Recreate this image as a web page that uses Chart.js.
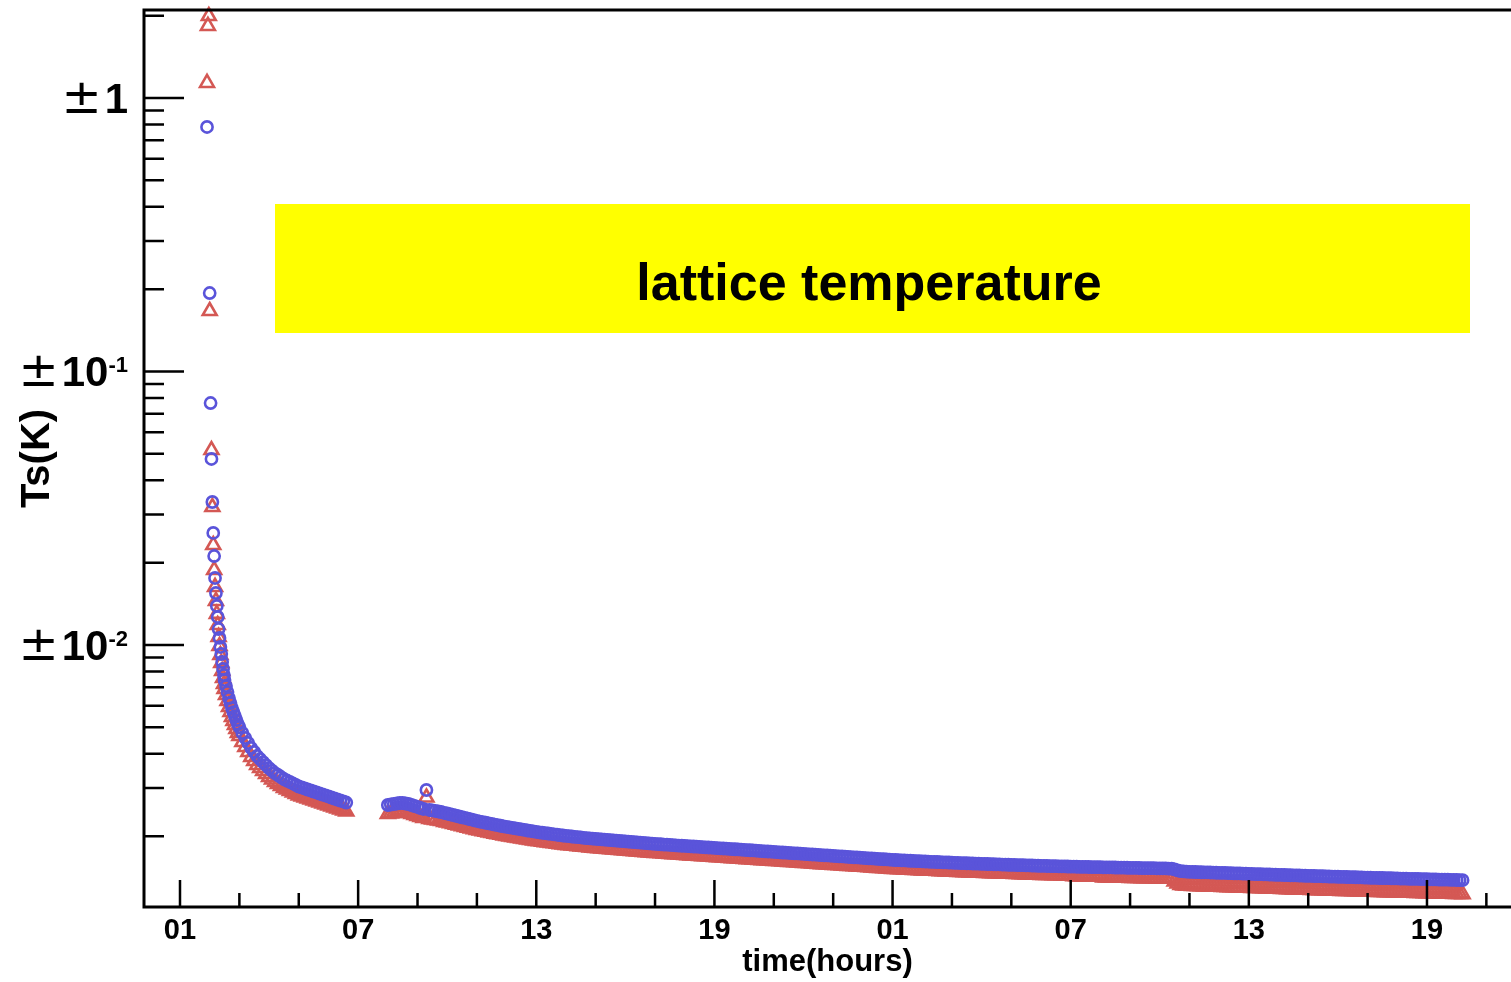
<!DOCTYPE html>
<html>
<head>
<meta charset="utf-8">
<title>lattice temperature</title>
<script src="https://cdn.jsdelivr.net/npm/chart.js@4"></script>
<style>
  html, body { margin: 0; padding: 0; background: #fff; }
  canvas { display: block; }
</style>
</head>
<body>
<canvas id="ts" width="1511" height="982"></canvas>
<script>
"use strict";

// time axis, hours since midnight of day one
const times = [
  1.91, 1.94, 1.97, 2.00, 2.03, 2.06, 2.09, 2.12, 2.15, 2.18, 2.21, 2.24, 2.27, 2.30, 2.33, 2.36, 2.39, 2.42, 2.45, 2.48,
  2.50, 2.55, 2.60, 2.65, 2.70, 2.75, 2.80, 2.85, 2.90, 2.95,
  3.0, 3.1, 3.2, 3.3, 3.4, 3.5, 3.6, 3.7, 3.8, 3.9,
  4.0, 4.1, 4.2, 4.3, 4.4, 4.5, 4.6, 4.7, 4.8, 4.9,
  5.0, 5.1, 5.2, 5.3, 5.4, 5.5, 5.6, 5.7, 5.8, 5.9,
  6.0, 6.1, 6.2, 6.3, 6.4, 6.5, 6.6,
  8.0, 8.1, 8.2, 8.3, 8.4, 8.5, 8.6, 8.7, 8.8, 8.9,
  9.0, 9.1, 9.2, 9.3, 9.4, 9.5, 9.6, 9.7, 9.8, 9.9,
  10.0, 10.1, 10.2, 10.3, 10.4, 10.5, 10.6, 10.7, 10.8, 10.9,
  11.0, 11.1, 11.2, 11.3, 11.4, 11.5, 11.6, 11.7, 11.8, 11.9,
  12.0, 12.1, 12.2, 12.3, 12.4, 12.5, 12.6, 12.7, 12.8, 12.9,
  13.0, 13.1, 13.2, 13.3, 13.4, 13.5, 13.6, 13.7, 13.8, 13.9,
  14.0, 14.1, 14.2, 14.3, 14.4, 14.5, 14.6, 14.7, 14.8, 14.9,
  15.0, 15.1, 15.2, 15.3, 15.4, 15.5, 15.6, 15.7, 15.8, 15.9,
  16.0, 16.1, 16.2, 16.3, 16.4, 16.5, 16.6, 16.7, 16.8, 16.9,
  17.0, 17.1, 17.2, 17.3, 17.4, 17.5, 17.6, 17.7, 17.8, 17.9,
  18.0, 18.1, 18.2, 18.3, 18.4, 18.5, 18.6, 18.7, 18.8, 18.9,
  19.0, 19.1, 19.2, 19.3, 19.4, 19.5, 19.6, 19.7, 19.8, 19.9,
  20.0, 20.1, 20.2, 20.3, 20.4, 20.5, 20.6, 20.7, 20.8, 20.9,
  21.0, 21.1, 21.2, 21.3, 21.4, 21.5, 21.6, 21.7, 21.8, 21.9,
  22.0, 22.1, 22.2, 22.3, 22.4, 22.5, 22.6, 22.7, 22.8, 22.9,
  23.0, 23.1, 23.2, 23.3, 23.4, 23.5, 23.6, 23.7, 23.8, 23.9,
  24.0, 24.1, 24.2, 24.3, 24.4, 24.5, 24.6, 24.7, 24.8, 24.9,
  25.0, 25.1, 25.2, 25.3, 25.4, 25.5, 25.6, 25.7, 25.8, 25.9,
  26.0, 26.1, 26.2, 26.3, 26.4, 26.5, 26.6, 26.7, 26.8, 26.9,
  27.0, 27.1, 27.2, 27.3, 27.4, 27.5, 27.6, 27.7, 27.8, 27.9,
  28.0, 28.1, 28.2, 28.3, 28.4, 28.5, 28.6, 28.7, 28.8, 28.9,
  29.0, 29.1, 29.2, 29.3, 29.4, 29.5, 29.6, 29.7, 29.8, 29.9,
  30.0, 30.1, 30.2, 30.3, 30.4, 30.5, 30.6, 30.7, 30.8, 30.9,
  31.0, 31.1, 31.2, 31.3, 31.4, 31.5, 31.6, 31.7, 31.8, 31.9,
  32.0, 32.1, 32.2, 32.3, 32.4, 32.5, 32.6, 32.7, 32.8, 32.9,
  33.0, 33.1, 33.2, 33.3, 33.4, 33.5, 33.6, 33.7, 33.8, 33.9,
  34.0, 34.1, 34.2, 34.3, 34.4, 34.5, 34.6, 34.7, 34.8, 34.9,
  35.0, 35.1, 35.2, 35.3, 35.4, 35.5, 35.6, 35.7, 35.8, 35.9,
  36.0, 36.1, 36.2, 36.3, 36.4, 36.5, 36.6, 36.7, 36.8, 36.9,
  37.0, 37.1, 37.2, 37.3, 37.4, 37.5, 37.6, 37.7, 37.8, 37.9,
  38.0, 38.1, 38.2, 38.3, 38.4, 38.5, 38.6, 38.7, 38.8, 38.9,
  39.0, 39.1, 39.2, 39.3, 39.4, 39.5, 39.6, 39.7, 39.8, 39.9,
  40.0, 40.1, 40.2, 40.3, 40.4, 40.5, 40.6, 40.7, 40.8, 40.9,
  41.0, 41.1, 41.2, 41.3, 41.4, 41.5, 41.6, 41.7, 41.8, 41.9,
  42.0, 42.1, 42.2, 42.3, 42.4, 42.5, 42.6, 42.7, 42.8, 42.9,
  43.0, 43.1, 43.2, 43.3, 43.4, 43.5, 43.6, 43.7, 43.8, 43.9,
  44.0, 44.1, 44.2
];

// Ts in K, circle markers
const tsBlue = [
  0.7834, null, null, 0.1936, 0.07669, 0.04787, 0.03333, 0.02568, 0.02115, 0.01758,
  0.01549, 0.01389, 0.01266, 0.01144, 0.01061, 0.009833, 0.009270, 0.008666, 0.008171, 0.007766,
  0.007446, 0.007079, 0.006731, 0.006399, 0.006135, 0.005882, 0.005687, 0.005498, 0.005316, 0.005140,
  0.005013, 0.004767, 0.004570, 0.004381, 0.004201, 0.004062, 0.003927, 0.003829, 0.003733, 0.003640,
  0.003549, 0.003475, 0.003403, 0.003347, 0.003291, 0.003236, 0.003195, 0.003156, 0.003116, 0.003077,
  0.003038, 0.003013, 0.002988, 0.002962, 0.002938, 0.002913, 0.002889, 0.002864, 0.002840, 0.002817,
  0.002793, 0.002769, 0.002746, 0.002723, 0.002700, 0.002678, 0.002655,
  0.002600, 0.002611, 0.002622, 0.002633, 0.002644, 0.002644, 0.002633, 0.002622, 0.002600, 0.002578,
  0.002557, 0.002535, 0.002514, 0.002950, 0.002493, 0.002483, 0.002472, 0.002462, 0.002451, 0.002431,
  0.002420, 0.002405, 0.002390, 0.002375, 0.002360, 0.002345, 0.002331, 0.002316, 0.002302, 0.002287,
  0.002273, 0.002262, 0.002250, 0.002239, 0.002227, 0.002216, 0.002205, 0.002194, 0.002183, 0.002172,
  0.002161, 0.002152, 0.002143, 0.002134, 0.002125, 0.002116, 0.002107, 0.002098, 0.002090, 0.002081,
  0.002072, 0.002065, 0.002058, 0.002052, 0.002045, 0.002038, 0.002031, 0.002024, 0.002018, 0.002011,
  0.002004, 0.001999, 0.001994, 0.001989, 0.001984, 0.001979, 0.001973, 0.001968, 0.001963, 0.001959,
  0.001954, 0.001950, 0.001946, 0.001942, 0.001938, 0.001934, 0.001930, 0.001925, 0.001921, 0.001917,
  0.001913, 0.001909, 0.001905, 0.001901, 0.001897, 0.001893, 0.001889, 0.001885, 0.001882, 0.001878,
  0.001874, 0.001871, 0.001868, 0.001864, 0.001861, 0.001858, 0.001855, 0.001852, 0.001848, 0.001845,
  0.001842, 0.001839, 0.001836, 0.001833, 0.001830, 0.001827, 0.001824, 0.001821, 0.001818, 0.001815,
  0.001812, 0.001809, 0.001806, 0.001803, 0.001800, 0.001797, 0.001794, 0.001791, 0.001788, 0.001785,
  0.001782, 0.001779, 0.001776, 0.001773, 0.001770, 0.001767, 0.001764, 0.001761, 0.001758, 0.001755,
  0.001752, 0.001749, 0.001746, 0.001743, 0.001740, 0.001737, 0.001734, 0.001731, 0.001729, 0.001726,
  0.001723, 0.001720, 0.001717, 0.001714, 0.001711, 0.001708, 0.001705, 0.001702, 0.001700, 0.001697,
  0.001694, 0.001691, 0.001688, 0.001686, 0.001683, 0.001680, 0.001677, 0.001674, 0.001672, 0.001669,
  0.001666, 0.001663, 0.001660, 0.001658, 0.001655, 0.001652, 0.001649, 0.001647, 0.001644, 0.001641,
  0.001638, 0.001636, 0.001634, 0.001632, 0.001630, 0.001628, 0.001626, 0.001624, 0.001622, 0.001620,
  0.001618, 0.001616, 0.001614, 0.001612, 0.001611, 0.001609, 0.001607, 0.001605, 0.001604, 0.001602,
  0.001600, 0.001598, 0.001597, 0.001595, 0.001594, 0.001592, 0.001590, 0.001589, 0.001587, 0.001586,
  0.001584, 0.001583, 0.001582, 0.001580, 0.001579, 0.001578, 0.001576, 0.001575, 0.001574, 0.001572,
  0.001571, 0.001570, 0.001568, 0.001567, 0.001566, 0.001564, 0.001563, 0.001562, 0.001560, 0.001559,
  0.001558, 0.001557, 0.001556, 0.001555, 0.001554, 0.001553, 0.001552, 0.001551, 0.001550, 0.001549,
  0.001548, 0.001547, 0.001546, 0.001545, 0.001545, 0.001544, 0.001543, 0.001542, 0.001541, 0.001541,
  0.001540, 0.001539, 0.001538, 0.001537, 0.001537, 0.001536, 0.001535, 0.001534, 0.001534, 0.001533,
  0.001532, 0.001531, 0.001531, 0.001530, 0.001529, 0.001529, 0.001528, 0.001527, 0.001527, 0.001526,
  0.001526, 0.001525, 0.001524, 0.001523, 0.001522, 0.001511, 0.001500, 0.001491, 0.001486, 0.001484,
  0.001481, 0.001480, 0.001479, 0.001477, 0.001476, 0.001475, 0.001474, 0.001473, 0.001471, 0.001470,
  0.001469, 0.001468, 0.001467, 0.001465, 0.001464, 0.001463, 0.001462, 0.001461, 0.001459, 0.001458,
  0.001457, 0.001456, 0.001454, 0.001453, 0.001452, 0.001451, 0.001449, 0.001448, 0.001447, 0.001445,
  0.001444, 0.001443, 0.001442, 0.001440, 0.001439, 0.001438, 0.001437, 0.001436, 0.001434, 0.001433,
  0.001432, 0.001431, 0.001430, 0.001429, 0.001428, 0.001427, 0.001425, 0.001424, 0.001423, 0.001422,
  0.001421, 0.001420, 0.001419, 0.001418, 0.001417, 0.001416, 0.001415, 0.001414, 0.001413, 0.001411,
  0.001410, 0.001409, 0.001408, 0.001407, 0.001406, 0.001406, 0.001405, 0.001404, 0.001403, 0.001402,
  0.001401, 0.001400, 0.001399, 0.001398, 0.001397, 0.001397, 0.001396, 0.001395, 0.001394, 0.001393,
  0.001392, 0.001391, 0.001390, 0.001389, 0.001388, 0.001388, 0.001387, 0.001386, 0.001385, 0.001384,
  0.001383, 0.001382, 0.001381
];

// Ts in K, triangle markers
const tsRed = [
  1.135, 1.834, 1.994, 0.1664, null, 0.05162, 0.03196, 0.02321, 0.01880, 0.01630,
  0.01448, 0.01299, 0.01183, 0.01070, 0.009916, 0.009192, 0.008594, 0.008035, 0.007572, 0.007199,
  0.006903, 0.006563, 0.006239, 0.005932, 0.005687, 0.005452, 0.005271, 0.005097, 0.004930, 0.004767,
  0.004648, 0.004418, 0.004236, 0.004062, 0.003894, 0.003765, 0.003640, 0.003549, 0.003461, 0.003375,
  0.003291, 0.003222, 0.003156, 0.003103, 0.003051, 0.003000, 0.002962, 0.002925, 0.002889, 0.002852,
  0.002817, 0.002793, 0.002769, 0.002746, 0.002723, 0.002700, 0.002678, 0.002655, 0.002633, 0.002611,
  0.002589, 0.002567, 0.002546, 0.002525, 0.002504, 0.002483, 0.002462,
  0.002411, 0.002421, 0.002431, 0.002441, 0.002451, 0.002451, 0.002441, 0.002431, 0.002411, 0.002390,
  0.002371, 0.002350, 0.002331, 0.002769, 0.002311, 0.002302, 0.002292, 0.002283, 0.002272, 0.002254,
  0.002244, 0.002230, 0.002216, 0.002202, 0.002188, 0.002174, 0.002161, 0.002147, 0.002134, 0.002120,
  0.002107, 0.002097, 0.002086, 0.002076, 0.002065, 0.002055, 0.002044, 0.002034, 0.002024, 0.002014,
  0.002004, 0.001995, 0.001987, 0.001978, 0.001970, 0.001962, 0.001953, 0.001945, 0.001938, 0.001929,
  0.001921, 0.001915, 0.001908, 0.001902, 0.001896, 0.001890, 0.001883, 0.001877, 0.001871, 0.001864,
  0.001858, 0.001853, 0.001849, 0.001844, 0.001839, 0.001835, 0.001829, 0.001825, 0.001820, 0.001816,
  0.001812, 0.001808, 0.001804, 0.001800, 0.001797, 0.001793, 0.001789, 0.001785, 0.001781, 0.001777,
  0.001774, 0.001770, 0.001766, 0.001762, 0.001759, 0.001755, 0.001751, 0.001748, 0.001745, 0.001741,
  0.001737, 0.001735, 0.001732, 0.001728, 0.001725, 0.001723, 0.001720, 0.001717, 0.001713, 0.001711,
  0.001708, 0.001705, 0.001702, 0.001699, 0.001697, 0.001694, 0.001691, 0.001688, 0.001686, 0.001683,
  0.001680, 0.001677, 0.001674, 0.001672, 0.001669, 0.001666, 0.001663, 0.001661, 0.001658, 0.001655,
  0.001652, 0.001649, 0.001647, 0.001644, 0.001641, 0.001638, 0.001635, 0.001633, 0.001630, 0.001627,
  0.001624, 0.001622, 0.001619, 0.001616, 0.001613, 0.001610, 0.001608, 0.001605, 0.001603, 0.001600,
  0.001597, 0.001595, 0.001592, 0.001589, 0.001586, 0.001584, 0.001581, 0.001578, 0.001576, 0.001573,
  0.001571, 0.001568, 0.001565, 0.001563, 0.001560, 0.001558, 0.001555, 0.001552, 0.001550, 0.001547,
  0.001545, 0.001542, 0.001539, 0.001537, 0.001534, 0.001532, 0.001529, 0.001527, 0.001524, 0.001521,
  0.001519, 0.001517, 0.001515, 0.001513, 0.001511, 0.001509, 0.001508, 0.001506, 0.001504, 0.001502,
  0.001500, 0.001498, 0.001496, 0.001495, 0.001494, 0.001492, 0.001490, 0.001488, 0.001487, 0.001485,
  0.001483, 0.001482, 0.001481, 0.001479, 0.001478, 0.001476, 0.001474, 0.001473, 0.001471, 0.001470,
  0.001469, 0.001468, 0.001467, 0.001465, 0.001464, 0.001463, 0.001461, 0.001460, 0.001459, 0.001457,
  0.001457, 0.001456, 0.001454, 0.001453, 0.001452, 0.001450, 0.001449, 0.001448, 0.001446, 0.001445,
  0.001444, 0.001444, 0.001443, 0.001442, 0.001441, 0.001440, 0.001439, 0.001438, 0.001437, 0.001436,
  0.001435, 0.001428, 0.001427, 0.001426, 0.001426, 0.001425, 0.001424, 0.001423, 0.001422, 0.001422,
  0.001421, 0.001414, 0.001413, 0.001413, 0.001413, 0.001412, 0.001411, 0.001410, 0.001410, 0.001409,
  0.001408, 0.001407, 0.001407, 0.001406, 0.001405, 0.001405, 0.001404, 0.001403, 0.001403, 0.001402,
  0.001402, 0.001401, 0.001401, 0.001400, 0.001399, 0.001367, 0.001343, 0.001325, 0.001321, 0.001319,
  0.001317, 0.001316, 0.001315, 0.001313, 0.001312, 0.001311, 0.001310, 0.001309, 0.001308, 0.001307,
  0.001306, 0.001305, 0.001304, 0.001302, 0.001301, 0.001301, 0.001300, 0.001299, 0.001297, 0.001296,
  0.001295, 0.001294, 0.001293, 0.001292, 0.001291, 0.001290, 0.001288, 0.001287, 0.001286, 0.001285,
  0.001284, 0.001283, 0.001282, 0.001280, 0.001279, 0.001278, 0.001278, 0.001277, 0.001275, 0.001274,
  0.001273, 0.001272, 0.001271, 0.001270, 0.001269, 0.001269, 0.001267, 0.001266, 0.001265, 0.001264,
  0.001263, 0.001262, 0.001261, 0.001261, 0.001260, 0.001259, 0.001258, 0.001257, 0.001256, 0.001254,
  0.001253, 0.001253, 0.001252, 0.001251, 0.001250, 0.001250, 0.001249, 0.001248, 0.001247, 0.001246,
  0.001245, 0.001245, 0.001244, 0.001243, 0.001242, 0.001242, 0.001241, 0.001240, 0.001239, 0.001238,
  0.001237, 0.001237, 0.001236, 0.001235, 0.001234, 0.001234, 0.001233, 0.001232, 0.001231, 0.001230,
  0.001229, 0.001229, 0.001228
];

// axis labels
const xTickValues = [1, 7, 13, 19, 25, 31, 37, 43];
const xTickLabels = ["01", "07", "13", "19", "01", "07", "13", "19"];
const yTickValues = [1, 0.1, 0.01];
const yTickBase = ["1", "10", "10"];
const yTickExp = ["", "-1", "-2"];

const FONT = "'Liberation Sans', Arial, Helvetica, sans-serif";
const BLUE = "#5a54da";
const RED = "#d45854";

Chart.defaults.font.family = FONT;
Chart.defaults.color = "#000";

const toPoints = (values) => times.map((t, i) => ({ x: t, y: values[i] }));


// frame, inner ticks, y labels and the title box
const rootFrame = {
  id: "rootFrame",

  beforeDatasetsDraw(chart) {
    const { ctx } = chart;
    ctx.save();
    ctx.fillStyle = "#ffff00";
    ctx.fillRect(275, 204, 1195, 129);
    ctx.fillStyle = "#000";
    ctx.font = `bold 52px ${FONT}`;
    ctx.textAlign = "center";
    ctx.textBaseline = "alphabetic";
    ctx.fillText("lattice temperature", 869, 300);
    ctx.restore();
  },

  afterDraw(chart) {
    const { ctx, chartArea: a, scales: { x, y } } = chart;
    ctx.save();
    ctx.strokeStyle = "#000";

    // axis lines
    ctx.lineWidth = 3;
    ctx.beginPath();
    ctx.moveTo(a.right, a.top);
    ctx.lineTo(a.left, a.top);
    ctx.lineTo(a.left, a.bottom);
    ctx.lineTo(a.right, a.bottom);
    ctx.stroke();

    // x ticks every two hours, long ones on the labelled hours
    ctx.lineWidth = 2.5;
    ctx.beginPath();
    for (let h = 1; h <= x.max; h += 2) {
      const px = x.getPixelForValue(h);
      const len = (h - 1) % 6 === 0 ? 27 : 14;
      ctx.moveTo(px, a.bottom);
      ctx.lineTo(px, a.bottom - len);
    }
    // y ticks, 1..9 per decade
    for (let e = -3; e <= 0; e++) {
      for (let k = 1; k <= 9; k++) {
        const v = k * Math.pow(10, e);
        if (v < y.min || v > y.max) continue;
        const py = y.getPixelForValue(v);
        ctx.moveTo(a.left, py);
        ctx.lineTo(a.left + (k === 1 ? 40 : 20), py);
      }
    }
    ctx.stroke();

    // y labels: "±" then mantissa with superscript exponent
    ctx.fillStyle = "#000";
    ctx.textAlign = "right";
    ctx.textBaseline = "alphabetic";
    yTickValues.forEach((v, i) => {
      const base = y.getPixelForValue(v) + 15;
      let right = 128;
      if (yTickExp[i]) {
        ctx.font = `bold 22px ${FONT}`;
        ctx.fillText(yTickExp[i], right, base - 14);
        right -= ctx.measureText(yTickExp[i]).width;
      }
      ctx.font = `bold 42px ${FONT}`;
      ctx.fillText(yTickBase[i], right, base);
      right -= ctx.measureText(yTickBase[i]).width + 3;
      ctx.font = "48px 'DejaVu Sans', sans-serif";
      ctx.fillText("\u00b1", right, base);
    });

    ctx.restore();
  }
};


new Chart(document.getElementById("ts"), {
  type: "scatter",
  data: {
    datasets: [
      {
        label: "Ts circles",
        data: toPoints(tsBlue),
        pointStyle: "circle",
        pointRadius: 5.6,
        pointBorderWidth: 2.6,
        pointBorderColor: BLUE,
        pointBackgroundColor: "rgba(0,0,0,0)",
        clip: 12
      },
      {
        label: "Ts triangles",
        data: toPoints(tsRed),
        pointStyle: "triangle",
        pointRadius: 8,
        pointBorderWidth: 2.6,
        pointBorderColor: RED,
        pointBackgroundColor: "rgba(0,0,0,0)",
        clip: 12
      }
    ]
  },
  options: {
    responsive: false,
    animation: false,
    devicePixelRatio: 1,
    layout: {
      autoPadding: false,
      padding: { top: 10, right: 0, bottom: 0, left: 0 }
    },
    plugins: {
      legend: { display: false },
      tooltip: { enabled: false }
    },
    scales: {
      x: {
        type: "linear",
        min: -0.2125,
        max: 45.83,
        grid: { display: false },
        border: { display: false },
        afterBuildTicks: (scale) => {
          scale.ticks = xTickValues.map((v) => ({ value: v }));
        },
        afterFit: (scale) => {
          scale.height = 75;
          scale.paddingLeft = 0;
          scale.paddingRight = 0;
        },
        ticks: {
          autoSkip: false,
          maxRotation: 0,
          padding: -1,
          color: "#000",
          font: { size: 29, weight: "bold" },
          callback: (value, index) => xTickLabels[index]
        },
        title: {
          display: true,
          text: "time(hours)",
          color: "#000",
          font: { size: 31, weight: "bold" },
          padding: { top: 0, bottom: 1 }
        }
      },
      y: {
        type: "logarithmic",
        min: 0.0011016,
        max: 2.0976,
        grid: { display: false },
        border: { display: false },
        ticks: { display: false },
        afterFit: (scale) => { scale.width = 144; },
        title: {
          display: true,
          text: "Ts(K)",
          color: "#000",
          font: { size: 40, weight: "bold" },
          padding: { top: 14, bottom: 0 }
        }
      }
    }
  },
  plugins: [rootFrame]
});
</script>
</body>
</html>
